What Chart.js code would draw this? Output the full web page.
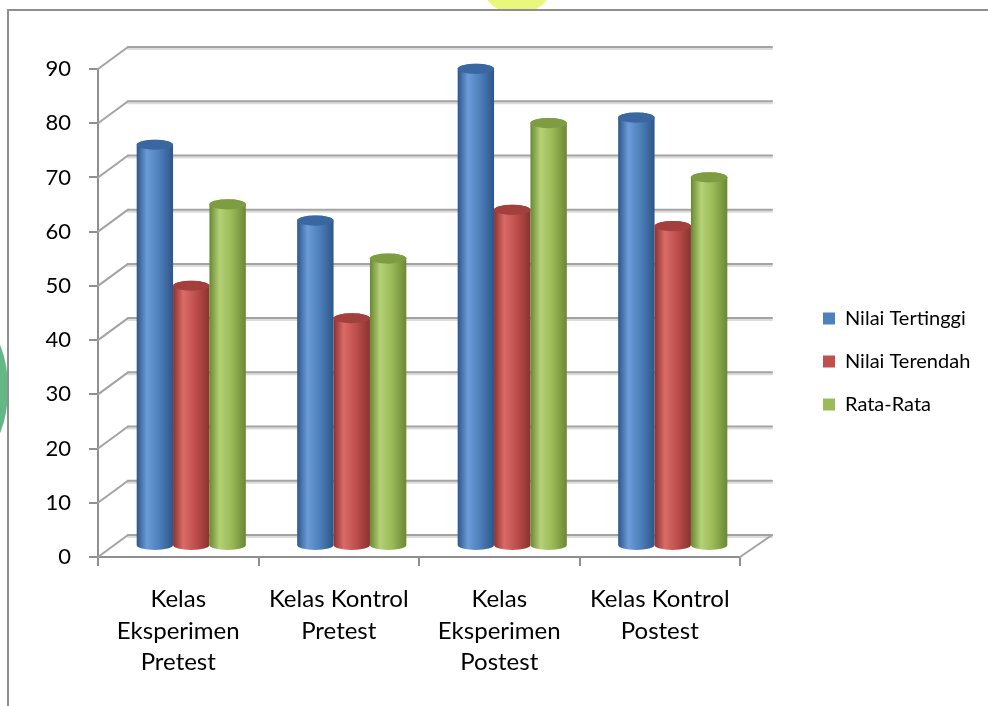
<!DOCTYPE html>
<html>
<head>
<meta charset="utf-8">
<script src="https://cdn.jsdelivr.net/npm/chart.js@4/dist/chart.umd.min.js"></script>
<style>
  html, body { margin: 0; padding: 0; background: #fff; }
  #wrap { position: relative; width: 988px; height: 706px; overflow: hidden; }
  .blob { position: absolute; border-radius: 50%; }
  #frame { position: absolute; left: 7px; top: 9px; width: 1100px; height: 800px; background: #fff;
           border-left: 2px solid #8f8f8f; border-top: 2px solid #8f8f8f; }
  #chart { position: absolute; left: 0; top: 0; }
</style>
</head>
<body>
<div id="wrap">
  <div class="blob" style="left:482px; top:-46px; width:70px; height:60px; background:#e9f77c;"></div>
  <div class="blob" style="left:-40px; top:330px; width:48px; height:118px; background:#62b985;"></div>
  <div id="frame"></div>
  <canvas id="chart" width="988" height="706"></canvas>
</div>
<script>
const categories = [
    ["Kelas", "Eksperimen", "Pretest"],
    ["Kelas Kontrol", "Pretest"],
    ["Kelas", "Eksperimen", "Postest"],
    ["Kelas Kontrol", "Postest"]
];
const seriesNames = ["Nilai Tertinggi", "Nilai Terendah", "Rata-Rata"];
const nilaiTertinggi = [74, 60, 88, 79];
const nilaiTerendah = [48, 42, 62, 59];
const rataRata = [63, 53, 78, 68];

const FONT = "Lato, 'Open Sans', sans-serif";

// fake 3d: back wall offset and bar depth offset
const DX = 30, DY = -22;
const BX = 13, BY = -11;

const palettes = [
    { edge: '#2d5689', light: '#6b9bd8', mid: '#4f81bd', cap: '#3a67a0', flat: '#4f81bd' },
    { edge: '#893230', light: '#da6b67', mid: '#c0504d', cap: '#a3403d', flat: '#c0504d' },
    { edge: '#6a8833', light: '#b4d176', mid: '#9bbb59', cap: '#7e9c42', flat: '#9bbb59' }
];

function cylinder(ctx, cx, top, base, w, pal) {
    const l = cx - w / 2, r = cx + w / 2, ry = w * 0.14;
    const g = ctx.createLinearGradient(l, 0, r, 0);
    g.addColorStop(0, pal.edge);
    g.addColorStop(0.28, pal.light);
    g.addColorStop(0.6, pal.mid);
    g.addColorStop(1, pal.edge);
    ctx.fillStyle = g;
    ctx.beginPath();
    ctx.moveTo(l, top);
    ctx.lineTo(l, base);
    ctx.ellipse(cx, base, w / 2, ry, 0, Math.PI, 0, true);
    ctx.lineTo(r, top);
    ctx.ellipse(cx, top, w / 2, ry, 0, 0, Math.PI, true);
    ctx.closePath();
    ctx.fill();
    // top cap
    ctx.fillStyle = pal.cap;
    ctx.beginPath();
    ctx.ellipse(cx, top, w / 2, ry, 0, 0, Math.PI * 2);
    ctx.fill();
}

function line(ctx, x1, y1, x2, y2) {
    ctx.beginPath();
    ctx.moveTo(x1, y1);
    ctx.lineTo(x2, y2);
    ctx.stroke();
}

const depthPlugin = {
    id: 'depth',
    beforeLayout(chart) {
        const legend = chart.legend;
        if (legend && !legend._patched) {
            const fit = legend.fit;
            legend.fit = function () {
                fit.call(this);
                this.width = 188;
            };
            legend._patched = true;
        }
    },
    afterLayout(chart) {
        // legend sits a bit above the middle of the canvas
        chart.legend.top -= 26;
        chart.legend.bottom -= 26;
    },
    beforeDatasetsDraw(chart) {
        const { ctx, chartArea: a, scales: { y } } = chart;
        ctx.save();
        ctx.lineCap = 'round';
        y.ticks.forEach(t => {
            const py = y.getPixelForValue(t.value);
            ctx.strokeStyle = '#dcdcdc';
            ctx.lineWidth = 2;
            line(ctx, a.left + DX, py + DY + 2, a.right + DX + 2, py + DY + 2);
            ctx.strokeStyle = '#a3a3a3';
            ctx.lineWidth = 2;
            line(ctx, a.left + DX, py + DY, a.right + DX + 2, py + DY);
            line(ctx, a.left, py, a.left + DX, py + DY);
        });
        // right edge of the floor
        ctx.strokeStyle = '#a3a3a3';
        line(ctx, a.right, a.bottom, a.right + DX + 2, a.bottom + DY);
        ctx.restore();

        ctx.save();
        ctx.translate(BX, BY);
        chart.data.datasets.forEach((ds, i) => {
            const meta = chart.getDatasetMeta(i);
            meta.data.forEach(bar => {
                cylinder(ctx, bar.x, bar.y, bar.base, bar.width, palettes[i]);
            });
        });
        ctx.restore();
        return false;
    }
};

const ctx = document.getElementById('chart').getContext('2d');
new Chart(ctx, {
    type: 'bar',
    data: {
        labels: categories,
        datasets: [
            { label: seriesNames[0], data: nilaiTertinggi, backgroundColor: palettes[0].flat },
            { label: seriesNames[1], data: nilaiTerendah, backgroundColor: palettes[1].flat },
            { label: seriesNames[2], data: rataRata, backgroundColor: palettes[2].flat }
        ]
    },
    options: {
        responsive: false,
        animation: false,
        devicePixelRatio: 1,
        layout: { padding: { top: 69, right: 0, bottom: 0, left: 0 } },
        datasets: { bar: { categoryPercentage: 0.68, barPercentage: 1 } },
        scales: {
            x: {
                grid: { offset: true, drawOnChartArea: false, drawTicks: true, tickLength: 9, color: '#8f8f8f', lineWidth: 2 },
                border: { display: true, color: '#8f8f8f', width: 2 },
                ticks: {
                    color: '#000', padding: 18, maxRotation: 0, autoSkip: false,
                    font: { family: FONT, size: 24, lineHeight: 1.31 }
                },
                afterFit(s) { s.height = 149; }
            },
            y: {
                min: 0, max: 90,
                grid: { drawOnChartArea: false, drawTicks: true, tickLength: 9, color: '#8f8f8f', lineWidth: 2 },
                border: { display: true, color: '#8f8f8f', width: 2 },
                ticks: { stepSize: 10, color: '#000', padding: 18, font: { family: FONT, size: 22 } },
                afterFit(s) { s.width = 98; }
            },
            gap: {
                type: 'linear', position: 'right',
                grid: { display: false }, border: { display: false }, ticks: { display: false },
                afterFit(s) { s.width = 60; }
            }
        },
        plugins: {
            legend: {
                position: 'right',
                labels: {
                    boxWidth: 12, boxHeight: 12, padding: 23, color: '#000',
                    font: { family: FONT, size: 20 }
                }
            },
            tooltip: { enabled: false }
        }
    },
    plugins: [depthPlugin]
});
</script>
</body>
</html>
